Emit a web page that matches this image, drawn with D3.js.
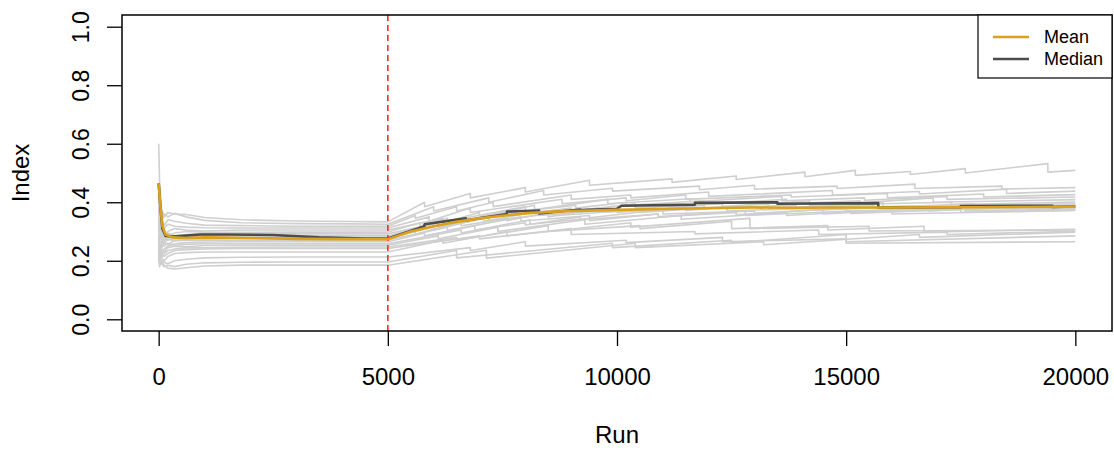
<!DOCTYPE html>
<html>
<head>
<meta charset="utf-8">
<script src="https://cdn.jsdelivr.net/npm/d3@7"></script>
<style>
  html, body { margin: 0; padding: 0; background: #fff; }
  svg { display: block; font-family: "Liberation Sans", Arial, Helvetica, sans-serif; }
</style>
</head>
<body>
<svg id="chart" width="1114" height="450"></svg>
<script>
// Individual runs: [run, index] pairs; a repeated run marks a vertical drop.
const run01 = [[0,0.60],[20,0.47],[60,0.38],[120,0.35],[200,0.365],[350,0.36],[600,0.358],[1000,0.348],[1800,0.340],[3000,0.336],[4200,0.334],[5000,0.333],[5800,0.40],[5800,0.385],[6800,0.43],[6800,0.415],[8000,0.45],[8000,0.435],[9400,0.475],[9400,0.458],[11200,0.48],[11200,0.468],[12600,0.49],[12600,0.478],[14100,0.503],[14100,0.487],[15200,0.509],[15200,0.492],[16400,0.505],[16400,0.495],[17600,0.515],[17600,0.50],[19400,0.532],[19400,0.503],[20000,0.509]];
const run02 = [[0,0.45],[20,0.38],[60,0.33],[120,0.36],[200,0.35],[350,0.362],[600,0.35],[1000,0.338],[1800,0.330],[3000,0.327],[4200,0.326],[5000,0.325],[6000,0.385],[6000,0.37],[7200,0.415],[7200,0.40],[8400,0.44],[8400,0.425],[9900,0.448],[9900,0.438],[11800,0.455],[11800,0.443],[13000,0.458],[13000,0.445],[14800,0.455],[14800,0.447],[16500,0.462],[16500,0.447],[18400,0.455],[18400,0.445],[20000,0.45]];
const run03 = [[0,0.30],[20,0.42],[60,0.35],[120,0.32],[200,0.34],[350,0.335],[600,0.328],[1000,0.322],[1800,0.320],[3000,0.318],[4200,0.318],[5000,0.318],[5600,0.355],[5600,0.345],[6500,0.385],[6500,0.37],[7300,0.40],[7300,0.385],[9000,0.425],[9000,0.41],[10300,0.425],[10300,0.415],[12000,0.435],[12000,0.42],[14700,0.44],[14700,0.425],[16600,0.437],[16600,0.428],[18500,0.445],[18500,0.43],[20000,0.438]];
const run04 = [[0,0.25],[20,0.30],[60,0.27],[120,0.31],[200,0.325],[350,0.318],[600,0.315],[1000,0.313],[1800,0.312],[3000,0.312],[4200,0.312],[5000,0.312],[5900,0.35],[5900,0.335],[6800,0.38],[6800,0.365],[8800,0.41],[8800,0.395],[10200,0.415],[10200,0.405],[11500,0.425],[11500,0.41],[13800,0.425],[13800,0.418],[15900,0.43],[15900,0.415],[18000,0.428],[18000,0.418],[20000,0.426]];
const run05 = [[0,0.22],[20,0.33],[60,0.29],[120,0.28],[200,0.30],[350,0.31],[600,0.305],[1000,0.302],[1800,0.305],[3000,0.305],[4200,0.305],[5000,0.305],[6200,0.345],[6200,0.33],[7000,0.365],[7000,0.35],[8200,0.39],[8200,0.375],[9800,0.41],[9800,0.395],[11600,0.412],[11600,0.402],[13600,0.42],[13600,0.405],[15400,0.415],[15400,0.407],[17200,0.42],[17200,0.41],[20000,0.418]];
const run06 = [[0,0.35],[20,0.28],[60,0.31],[120,0.30],[200,0.285],[350,0.295],[600,0.30],[1000,0.298],[1800,0.297],[3000,0.298],[4200,0.298],[5000,0.298],[5700,0.33],[5700,0.318],[6300,0.345],[6300,0.335],[8000,0.385],[8000,0.37],[9100,0.39],[9100,0.38],[10200,0.40],[10200,0.39],[11900,0.405],[11900,0.393],[13700,0.41],[13700,0.395],[15300,0.405],[15300,0.398],[16900,0.415],[16900,0.40],[20000,0.409]];
const run07 = [[0,0.40],[20,0.34],[60,0.26],[120,0.28],[200,0.295],[350,0.285],[600,0.29],[1000,0.293],[1800,0.291],[3000,0.292],[4200,0.292],[5000,0.292],[6400,0.34],[6400,0.325],[7700,0.37],[7700,0.355],[9000,0.38],[9000,0.37],[10400,0.395],[10400,0.38],[12300,0.395],[12300,0.385],[14200,0.405],[14200,0.39],[17300,0.40],[17300,0.392],[20000,0.401]];
const run08 = [[0,0.28],[20,0.23],[60,0.26],[120,0.27],[200,0.28],[350,0.275],[600,0.282],[1000,0.286],[1800,0.285],[3000,0.285],[4200,0.285],[5000,0.285],[6100,0.33],[6100,0.315],[7100,0.345],[7100,0.335],[8300,0.37],[8300,0.355],[10000,0.375],[10000,0.365],[11900,0.39],[11900,0.38],[13900,0.39],[13900,0.382],[15800,0.40],[15800,0.385],[20000,0.395]];
const run09 = [[0,0.20],[20,0.26],[60,0.24],[120,0.265],[200,0.255],[350,0.27],[600,0.276],[1000,0.279],[1800,0.28],[3000,0.28],[4200,0.28],[5000,0.28],[6000,0.315],[6000,0.305],[7200,0.35],[7200,0.335],[8500,0.36],[8500,0.35],[9600,0.38],[9600,0.365],[11500,0.38],[11500,0.372],[13300,0.395],[13300,0.38],[15600,0.39],[15600,0.382],[17800,0.395],[17800,0.385],[20000,0.39]];
const run10 = [[0,0.32],[20,0.29],[60,0.30],[120,0.28],[200,0.27],[350,0.278],[600,0.274],[1000,0.275],[1800,0.276],[3000,0.275],[4200,0.275],[5000,0.275],[5600,0.30],[5600,0.29],[6600,0.335],[6600,0.32],[7600,0.345],[7600,0.337],[8700,0.37],[8700,0.355],[10500,0.375],[10500,0.365],[12400,0.385],[12400,0.37],[14300,0.38],[14300,0.373],[16300,0.385],[16300,0.375],[20000,0.382]];
const run11 = [[0,0.26],[20,0.21],[60,0.25],[120,0.26],[200,0.275],[350,0.268],[600,0.27],[1000,0.271],[1800,0.27],[3000,0.27],[4200,0.27],[5000,0.27],[6300,0.315],[6300,0.303],[7900,0.35],[7900,0.335],[9400,0.355],[9400,0.347],[11000,0.375],[11000,0.36],[13000,0.37],[13000,0.362],[15000,0.38],[15000,0.37],[17600,0.378],[17600,0.37],[20000,0.378]];
const run12 = [[0,0.23],[20,0.25],[60,0.22],[120,0.24],[200,0.25],[350,0.258],[600,0.262],[1000,0.264],[1800,0.265],[3000,0.265],[4200,0.265],[5000,0.265],[5800,0.295],[5800,0.285],[6900,0.32],[6900,0.305],[8000,0.33],[8000,0.322],[9200,0.35],[9200,0.34],[10900,0.36],[10900,0.35],[12800,0.37],[12800,0.355],[15100,0.37],[15100,0.362],[17500,0.375],[17500,0.365],[20000,0.373]];
const run13 = [[0,0.38],[20,0.31],[60,0.27],[120,0.25],[200,0.26],[350,0.253],[600,0.256],[1000,0.258],[1800,0.258],[3000,0.258],[4200,0.258],[5000,0.258],[6600,0.305],[6600,0.295],[8100,0.34],[8100,0.325],[9400,0.345],[9400,0.337],[10900,0.36],[10900,0.35],[12600,0.365],[12600,0.357],[14500,0.375],[14500,0.36],[16800,0.38],[16800,0.37],[19000,0.385],[19000,0.375],[20000,0.38]];
const run14 = [[0,0.27],[20,0.22],[60,0.24],[120,0.23],[200,0.245],[350,0.25],[600,0.248],[1000,0.252],[1800,0.253],[3000,0.253],[4200,0.253],[5000,0.253],[6100,0.285],[6100,0.275],[7400,0.315],[7400,0.30],[9300,0.34],[9300,0.325],[11400,0.355],[11400,0.342],[13700,0.365],[13700,0.355],[16000,0.375],[16000,0.36],[20000,0.372]];
const run15 = [[0,0.21],[20,0.24],[60,0.21],[120,0.225],[200,0.235],[350,0.24],[600,0.245],[1000,0.244],[1800,0.246],[3000,0.247],[4200,0.247],[5000,0.247],[6500,0.28],[6500,0.27],[8500,0.32],[8500,0.30],[10500,0.32],[10500,0.31],[12500,0.335],[12500,0.31],[14600,0.32],[14600,0.305],[16700,0.318],[16700,0.298],[20000,0.308]];
const run16 = [[0,0.24],[20,0.20],[60,0.22],[120,0.215],[200,0.225],[350,0.235],[600,0.238],[1000,0.24],[1800,0.242],[3000,0.242],[4200,0.242],[5000,0.242],[7000,0.285],[7000,0.275],[9000,0.31],[9000,0.29],[11700,0.30],[11700,0.292],[14400,0.305],[14400,0.29],[17200,0.298],[17200,0.29],[20000,0.301]];
const run17 = [[0,0.22],[20,0.27],[60,0.21],[120,0.20],[200,0.215],[350,0.225],[600,0.228],[1000,0.23],[1800,0.23],[3000,0.23],[4200,0.23],[5000,0.23],[6200,0.27],[6200,0.26],[7600,0.30],[7600,0.285],[10300,0.33],[10300,0.315],[12900,0.345],[12900,0.31],[15500,0.318],[15500,0.302],[20000,0.305]];
const run18 = [[0,0.21],[20,0.18],[60,0.20],[120,0.195],[200,0.19],[350,0.20],[600,0.205],[1000,0.21],[1800,0.212],[3000,0.213],[4200,0.213],[5000,0.213],[6800,0.245],[6800,0.235],[8000,0.265],[8000,0.25],[10200,0.27],[10200,0.262],[12300,0.28],[12300,0.265],[15000,0.275],[15000,0.265],[20000,0.285]];
const run19 = [[0,0.20],[20,0.23],[60,0.19],[120,0.18],[200,0.185],[350,0.18],[600,0.188],[1000,0.193],[1800,0.195],[3000,0.196],[4200,0.196],[5000,0.196],[6500,0.235],[6500,0.21],[9900,0.26],[9900,0.245],[12500,0.27],[12500,0.262],[15000,0.29],[15000,0.26],[20000,0.265]];
const run20 = [[0,0.24],[20,0.19],[60,0.20],[120,0.185],[200,0.175],[350,0.172],[600,0.176],[1000,0.182],[1800,0.185],[3000,0.185],[4200,0.185],[5000,0.185],[7150,0.236],[7150,0.209],[10400,0.26],[10400,0.245],[13200,0.265],[13200,0.255],[16600,0.29],[16600,0.28],[20000,0.298]];
const runs = [run01, run02, run03, run04, run05, run06, run07, run08, run09, run10,
              run11, run12, run13, run14, run15, run16, run17, run18, run19, run20];

// Summary series across runs
const meanSeries = [[0,0.465],[30,0.40],[80,0.32],[150,0.29],[300,0.28],[600,0.278],[1000,0.28],[2000,0.278],[3000,0.275],[4000,0.274],[5000,0.274],[5500,0.30],[6000,0.318],[6500,0.333],[7000,0.345],[7500,0.354],[8000,0.362],[8500,0.367],[9000,0.37],[10000,0.374],[11000,0.377],[12000,0.38],[13000,0.382],[14000,0.381],[15000,0.382],[16000,0.382],[17000,0.383],[18000,0.383],[19000,0.384],[20000,0.385]];
const medianSeries = [[0,0.465],[30,0.40],[80,0.31],[150,0.285],[300,0.283],[600,0.286],[900,0.29],[1500,0.29],[2500,0.288],[3500,0.28],[4500,0.276],[5000,0.276],[5800,0.318],[5800,0.325],[6700,0.345],[6700,0.338],[7600,0.36],[7600,0.368],[8300,0.372],[8300,0.362],[9200,0.375],[9200,0.373],[10000,0.378],[10100,0.388],[11700,0.392],[11700,0.398],[13500,0.40],[13500,0.395],[15700,0.397],[15700,0.382],[17500,0.383],[17500,0.387],[19500,0.388],[19500,0.384],[20000,0.386]];

const xTicks = [0, 5000, 10000, 15000, 20000];
const yTicks = [0.0, 0.2, 0.4, 0.6, 0.8, 1.0];
const cutoffRun = 5000;
const legendLabels = ["Mean", "Median"];

const colMean = "#DBA11C", colMedian = "#4D4D4D", colRun = "#CFCFCF";

const svg = d3.select("#chart");
const box = {left: 122, right: 1112, top: 15, bottom: 331};

// R-style 4% padding around the data ranges
const x = d3.scaleLinear().domain([-800, 20800]).range([box.left, box.right]);
const y = d3.scaleLinear().domain([-0.04, 1.04]).range([box.bottom, box.top]);

const line = d3.line().x(d => x(d[0])).y(d => y(d[1]));

svg.append("defs").append("clipPath").attr("id", "plotClip")
  .append("rect").attr("x", box.left).attr("y", box.top)
  .attr("width", box.right - box.left).attr("height", box.bottom - box.top);

const plot = svg.append("g").attr("clip-path", "url(#plotClip)");

plot.selectAll("path.run").data(runs).join("path")
  .attr("class", "run")
  .attr("d", line)
  .attr("fill", "none")
  .attr("stroke", colRun)
  .attr("stroke-width", 1.6)
  .attr("stroke-linejoin", "round");

plot.append("line")
  .attr("x1", x(cutoffRun)).attr("x2", x(cutoffRun))
  .attr("y1", box.top).attr("y2", box.bottom)
  .attr("stroke", "#FF2A2A").attr("stroke-width", 1.6)
  .attr("stroke-dasharray", "6,4");

plot.append("path").datum(medianSeries)
  .attr("d", line).attr("fill", "none")
  .attr("stroke", colMedian).attr("stroke-width", 2.6)
  .attr("stroke-linejoin", "round");

plot.append("path").datum(meanSeries)
  .attr("d", line).attr("fill", "none")
  .attr("stroke", colMean).attr("stroke-width", 2.6)
  .attr("stroke-linejoin", "round");

// Frame
svg.append("rect")
  .attr("x", box.left).attr("y", box.top)
  .attr("width", box.right - box.left).attr("height", box.bottom - box.top)
  .attr("fill", "none").attr("stroke", "#000").attr("stroke-width", 1.5);

// Axes
const xAxis = d3.axisBottom(x).tickValues(xTicks).tickSize(15).tickSizeOuter(0).tickPadding(22).tickFormat(d3.format("d"));
const gx = svg.append("g").attr("transform", `translate(0,${box.bottom})`).call(xAxis);
gx.select(".domain").remove();
gx.selectAll(".tick line").attr("stroke", "#000").attr("stroke-width", 1.3);
gx.selectAll(".tick text").attr("font-size", 24).attr("fill", "#000")
  .attr("font-family", "Liberation Sans, Arial, sans-serif");

const yAxis = d3.axisLeft(y).tickValues(yTicks).tickSize(15).tickSizeOuter(0).tickFormat(d3.format(".1f"));
const gy = svg.append("g").attr("transform", `translate(${box.left},0)`).call(yAxis);
gy.select(".domain").remove();
gy.selectAll(".tick line").attr("stroke", "#000").attr("stroke-width", 1.3);
gy.selectAll(".tick text")
  .attr("font-size", 23).attr("fill", "#000")
  .attr("font-family", "Liberation Sans, Arial, sans-serif")
  .attr("x", null).attr("dy", null)
  .attr("text-anchor", "middle")
  .attr("transform", "translate(-33,0) rotate(-90)");

// Axis titles
svg.append("text").attr("x", (box.left + box.right) / 2).attr("y", 443)
  .attr("text-anchor", "middle").attr("font-size", 24).text("Run");
svg.append("text")
  .attr("transform", `translate(29,${(box.top + box.bottom) / 2}) rotate(-90)`)
  .attr("text-anchor", "middle").attr("font-size", 24).text("Index");

// Legend
const lg = svg.append("g");
lg.append("rect").attr("x", 978).attr("y", box.top).attr("width", box.right - 978).attr("height", 63)
  .attr("fill", "#fff").attr("stroke", "#000").attr("stroke-width", 1.2);
const legendColors = [colMean, colMedian];
legendLabels.forEach((lab, i) => {
  const ly = 37 + i * 22;
  lg.append("line").attr("x1", 993).attr("x2", 1029).attr("y1", ly).attr("y2", ly)
    .attr("stroke", legendColors[i]).attr("stroke-width", 2.6);
  lg.append("text").attr("x", 1044).attr("y", ly).attr("dy", "0.35em")
    .attr("font-size", 18).text(lab);
});
</script>
</body>
</html>
